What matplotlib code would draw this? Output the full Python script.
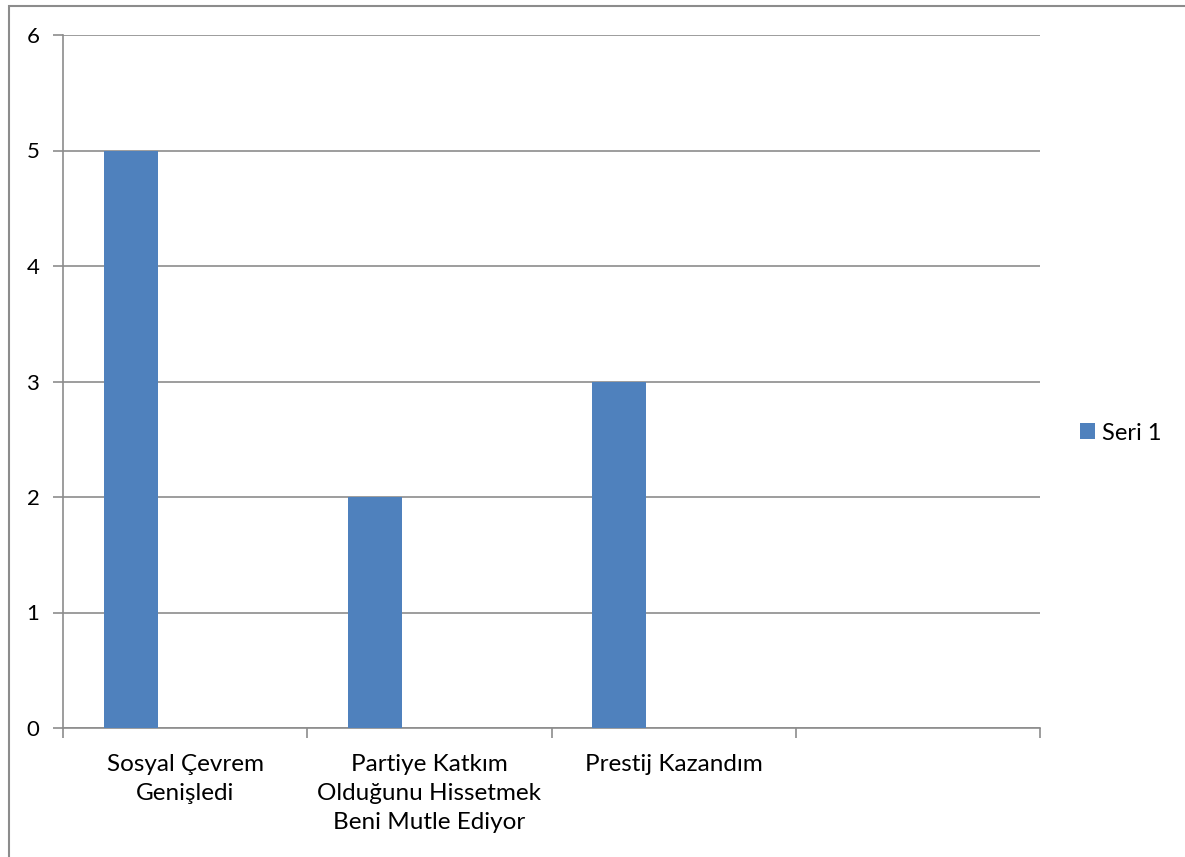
import numpy as np
import matplotlib.pyplot as plt
from matplotlib.patches import Rectangle

# Chart data
categories = ["Sosyal Çevrem\nGenişledi",
              "Partiye Katkım\nOlduğunu Hissetmek\nBeni Mutle Ediyor",
              "Prestij Kazandım",
              ""]
seri_1 = [5, 2, 3, 0]
y_ticks = [0, 1, 2, 3, 4, 5, 6]

plt.rcParams['font.family'] = ['Lato', 'DejaVu Sans']
grid_color = "#8c8c8c"
bar_color = "#4f81bd"

fig = plt.figure(figsize=(11.85, 8.57), dpi=100)
ax = fig.add_axes([63 / 1185, 1 - 728 / 857, (1040 - 63) / 1185, (728 - 35) / 857])

x = np.arange(len(categories))
bar_w = 1 / 4.5
ax.bar(x - bar_w, seri_1, width=bar_w, color=bar_color, label="Seri 1", zorder=3)

ax.set_xlim(-0.5, len(categories) - 0.5)
ax.set_ylim(0, 6)
ax.set_yticks(y_ticks)
ax.set_yticklabels([str(v) for v in y_ticks], fontsize=16)
ax.yaxis.grid(True, color=grid_color, linewidth=1.2, zorder=0)

# category boundaries carry the tick marks, labels sit in the middle
ax.set_xticks(np.arange(len(categories) + 1) - 0.5)
ax.set_xticklabels([])
ax.set_xticks(x, minor=True)
ax.set_xticklabels(categories, minor=True, fontsize=17.5, linespacing=1.47, va="top")
ax.tick_params(axis="x", which="minor", length=0, pad=19)
ax.tick_params(axis="x", which="major", length=7, width=1.2, color=grid_color)
ax.tick_params(axis="y", length=7, width=1.2, color=grid_color, pad=10)

for side in ["top", "right"]:
    ax.spines[side].set_visible(False)
for side in ["left", "bottom"]:
    ax.spines[side].set_color(grid_color)
    ax.spines[side].set_linewidth(1.2)

ax.legend(loc="center left", bbox_to_anchor=(1080 / 1185, 1 - 433 / 857),
          bbox_transform=fig.transFigure, frameon=False, borderpad=0,
          borderaxespad=0, fontsize=17, handlelength=0.63, handleheight=0.63,
          handletextpad=0.32)

# outer chart frame (only top and left edges show in the picture)
fig.patches.append(Rectangle((9 / 1185, -0.1), 1.2, 1 - 6 / 857 + 0.1,
                             transform=fig.transFigure, fill=False,
                             edgecolor=grid_color, linewidth=1.5))

fig.savefig("out.png", dpi=100)
